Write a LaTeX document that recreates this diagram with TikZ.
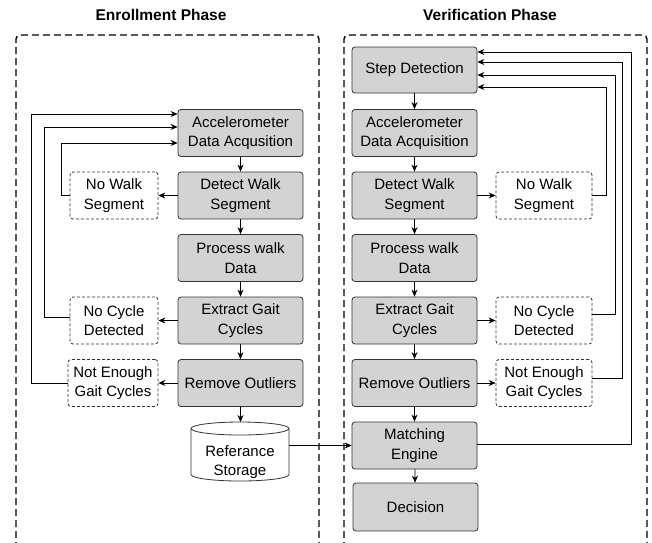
\documentclass[tikz,border=0pt]{standalone}
\usepackage{fontspec}
\setmainfont{Liberation Sans}
\usetikzlibrary{arrows.meta}
\definecolor{boxgray}{HTML}{D3D3D3}
\definecolor{edgegray}{HTML}{333333}
\begin{document}
\begin{tikzpicture}[x=1pt,y=-1pt,
  txt/.style={font=\fontsize{15}{19.5}\selectfont, align=center, inner sep=0pt},
  proc/.style={txt, draw=edgegray, fill=boxgray, rounded corners=3pt, line width=0.8pt, minimum width=125pt, minimum height=47pt},
  alt/.style={txt, draw=edgegray, fill=white, dash pattern=on 3pt off 2pt, rounded corners=3pt, line width=0.8pt, minimum width=88pt, minimum height=47pt},
  panel/.style={draw=black, line width=1.4pt, dash pattern=on 7pt off 4pt, rounded corners=4pt},
  title/.style={font=\fontsize{15.5}{18}\selectfont\bfseries, inner sep=0pt},
  arr/.style={-{Stealth[length=7pt,width=6pt]}, line width=0.8pt, black}
]
\useasboundingbox (0,0) rectangle (652,542);
\clip (0,0) rectangle (652,542);

% panels
\draw[panel] (16,560) -- (16,35) -- (319,35) -- (319,560);
\draw[panel] (344,560) -- (344,35) -- (647,35) -- (647,560);
\node[title] (t1) at (161,15) {Enrollment Phase};
\node[title] (t2) at (490,15) {Verification Phase};

% enrollment
\node[proc] (acc1) at (240.5,133) {Accelerometer\\Data Acqusition};
\node[proc] (det1) at (240.5,195.5) {Detect Walk\\Segment};
\node[proc] (pro1) at (240.5,258) {Process walk\\Data};
\node[proc] (ext1) at (240.5,320.5) {Extract Gait\\Cycles};
\node[proc] (rem1) at (240.5,383) {Remove Outliers};
\node[alt] (nw1) at (114,195.5) {No Walk\\Segment};
\node[alt] (nc1) at (114,320.5) {No Cycle\\Detected};
\node[alt, minimum width=90pt] (ne1) at (113,383) {Not Enough\\Gait Cycles};

% storage cylinder
\node[txt, minimum width=98pt, minimum height=59pt] (store) at (240,451.5) {};
\draw[edgegray, line width=0.8pt, fill=white]
  (191,428.5) -- (191,474.5) arc[start angle=180, end angle=360, x radius=49pt, y radius=6.5pt]
  -- (289,428.5) arc[start angle=0, end angle=180, x radius=49pt, y radius=6.5pt] -- cycle;
\draw[edgegray, line width=0.8pt] (191,428.5) arc[start angle=180, end angle=360, x radius=49pt, y radius=6.5pt];
\node[txt] (storetxt) at (240,462) {Referance\\Storage};

% verification
\node[proc, minimum height=46pt] (step) at (414.5,70) {Step Detection};
\node[proc] (acc2) at (414.5,133) {Accelerometer\\Data Acquisition};
\node[proc] (det2) at (414.5,195.5) {Detect Walk\\Segment};
\node[proc] (pro2) at (414.5,258) {Process walk\\Data};
\node[proc] (ext2) at (414.5,320.5) {Extract Gait\\Cycles};
\node[proc] (rem2) at (414.5,383) {Remove Outliers};
\node[proc] (match) at (414.5,445.5) {Matching\\Engine};
\node[proc, minimum height=48pt] (dec) at (415.5,507) {Decision};
\node[alt, minimum width=96pt] (nw2) at (544,195.5) {No Walk\\Segment};
\node[alt, minimum width=96pt] (nc2) at (544,320.5) {No Cycle\\Detected};
\node[alt, minimum width=96pt] (ne2) at (544,383) {Not Enough\\Gait Cycles};

% enrollment arrows
\draw[arr] (acc1) -- (det1);
\draw[arr] (det1) -- (pro1);
\draw[arr] (pro1) -- (ext1);
\draw[arr] (ext1) -- (rem1);
\draw[arr] (rem1.south) -- (rem1.south |- 0,422);
\draw[arr] (det1) -- (nw1);
\draw[arr] (ext1) -- (nc1);
\draw[arr] (rem1) -- (ne1);
\draw[arr] (nw1.west) -- ++(-8,0) |- ([yshift=-10pt]acc1.west);
\draw[arr] ([yshift=3.5pt]nc1.west) -- ++(-25,0) |- ([yshift=6pt]acc1.west);
\draw[arr] (ne1.west) -- ++(-36,0) |- ([yshift=19pt]acc1.west);

% storage to matching
\draw[arr] (store.east |- match.west) -- (match.west);

% verification arrows
\draw[arr] (step) -- (acc2);
\draw[arr] (acc2) -- (det2);
\draw[arr] (det2) -- (pro2);
\draw[arr] (pro2) -- (ext2);
\draw[arr] (ext2) -- (rem2);
\draw[arr] (rem2) -- (match);
\draw[arr] (match) -- (dec);
\draw[arr] (det2) -- (nw2);
\draw[arr] (ext2) -- (nc2);
\draw[arr] (rem2) -- (ne2);
\draw[arr] (nw2.east) -- ++(14,0) |- ([yshift=-17pt]step.east);
\draw[arr] ([yshift=6.5pt]nc2.east) -- ++(23,0) |- ([yshift=-5pt]step.east);
\draw[arr] ([yshift=5pt]ne2.east) -- ++(30,0) |- ([yshift=8pt]step.east);
\draw[arr] ([yshift=1.5pt]match.east) -- ++(154,0) |- ([yshift=18pt]step.east);
\end{tikzpicture}
\end{document}
